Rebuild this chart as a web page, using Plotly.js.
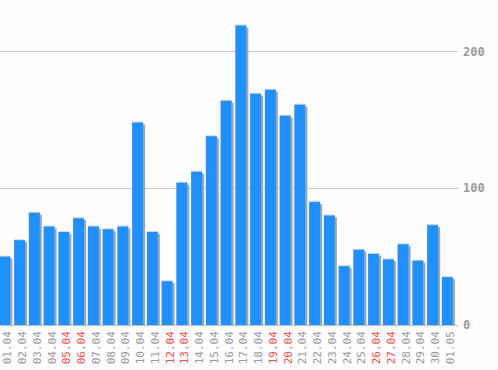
<!DOCTYPE html>
<html><head><meta charset="utf-8">
<script src="https://cdn.plot.ly/plotly-3.0.1.min.js"></script>
<style>html,body{margin:0;padding:0;background:#fff}#c{width:498px;height:370px}</style>
</head><body><div id="c"></div>
<script>
const dates = ["01.04","02.04","03.04","04.04","05.04","06.04","07.04","08.04","09.04","10.04","11.04","12.04","13.04","14.04","15.04","16.04","17.04","18.04","19.04","20.04","21.04","22.04","23.04","24.04","25.04","26.04","27.04","28.04","29.04","30.04","01.05"];
const values = [50,62,82,72,68,78,72,70,72,148,68,32,104,112,138,164,219,169,172,153,161,90,80,43,55,52,48,59,47,73,35];
const weekends = ["05.04","06.04","12.04","13.04","19.04","20.04","26.04","27.04"];
const yTicks = [0,100,200];

const xIdx = dates.map((d,i)=>i);
const tickText = dates.map(d => weekends.includes(d)
  ? '<span style="color:#ff4d4d">'+d+'</span>' : d);
const W = 0.745;
const R0 = -0.33, R1 = 30.72, LBL = 0.2;

const traces = [
  {type:'bar', x:xIdx, y:values, base:-1.46, offset:-W/2+0.135, width:W,
   marker:{color:'#a3a3a3'}, hoverinfo:'skip'},
  {type:'bar', x:xIdx, y:values, base:0.75, width:W,
   marker:{color:'#d6d6d6'}, hoverinfo:'skip'},
  {type:'bar', x:xIdx, y:values, width:W,
   marker:{color:'#1e90ff'}},
  {type:'scatter', x:[], y:[], xaxis:'x2', yaxis:'y', hoverinfo:'skip'}
];
const layout = {
  width:498, height:370,
  margin:{l:0, r:40, t:0, b:45},
  paper_bgcolor:'#fdfdfd', plot_bgcolor:'#fdfdfd',
  showlegend:false, barmode:'overlay',
  xaxis:{range:[R0,R1], showticklabels:false,
    showgrid:false, zeroline:false, showline:false, ticks:'', fixedrange:true},
  xaxis2:{range:[R0-LBL,R1-LBL], overlaying:'x', anchor:'y', side:'bottom',
    tickvals:xIdx, ticktext:tickText, tickangle:-90, ticklabelstandoff:3,
    showgrid:false, zeroline:false, showline:false, ticks:'', ticklabeloverflow:'allow',
    tickfont:{family:'DejaVu Sans Mono', size:11, color:'#9a9a9a'}, fixedrange:true},
  yaxis:{range:[0,237.6], side:'right', tickvals:yTicks, ticktext:yTicks.map(String),
    showgrid:true, gridcolor:'#c8c8c8', gridwidth:1, zeroline:true, zerolinecolor:'#bdbdbd', zerolinewidth:1,
    ticks:'', ticklabelstandoff:4,
    tickfont:{family:'DejaVu Sans Mono', size:12, color:'#9a9a9a', weight:'bold'}, fixedrange:true}
};
Plotly.newPlot('c', traces, layout, {displayModeBar:false, staticPlot:true});
</script></body></html>
